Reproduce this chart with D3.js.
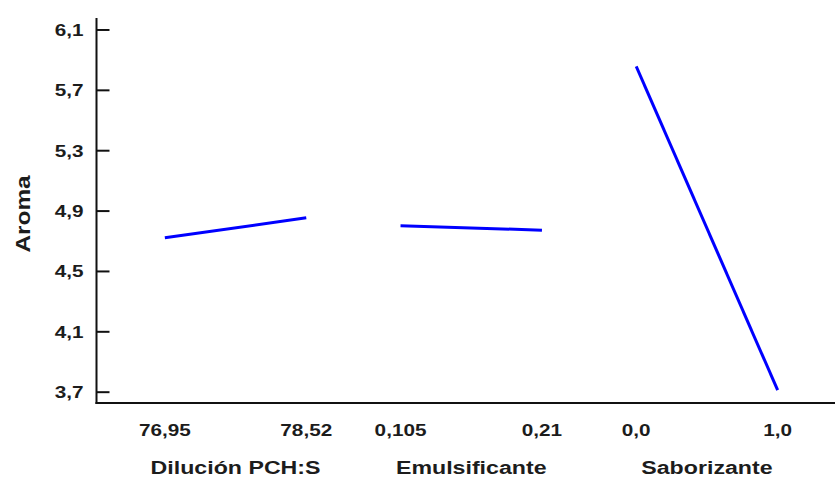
<!DOCTYPE html>
<html>
<head>
<meta charset="utf-8">
<script src="https://cdn.jsdelivr.net/npm/d3@7"></script>
<style>
  html, body { margin: 0; padding: 0; background: #fff; }
  svg { display: block; }
  text { font-family: "Liberation Sans", Arial, sans-serif; font-weight: bold; fill: #1c1c1c; }
</style>
</head>
<body>
<svg id="chart" width="835" height="479"></svg>
<script>
// Main effects for Aroma
const factors = ["Dilución PCH:S", "Emulsificante", "Saborizante"];
const lowLevels = [76.95, 0.105, 0.0];
const highLevels = [78.52, 0.21, 1.0];
const lowLabels = ["76,95", "0,105", "0,0"];
const highLabels = ["78,52", "0,21", "1,0"];
const aromaLow = [4.72, 4.80, 5.855];
const aromaHigh = [4.852, 4.77, 3.71];
const yTicks = [3.7, 4.1, 4.5, 4.9, 5.3, 5.7, 6.1];
const yLabel = "Aroma";

const W = 835, H = 479;
const plotLeft = 96.5, plotTop = 18, plotBottom = 403;
const stretch = 1.22; // wide glyphs

const svg = d3.select("#chart");
const locale = d3.formatLocale({ decimal: ",", thousands: ".", grouping: [3], currency: ["", ""] });
const fmt = locale.format(".1f");

const y = d3.scaleLinear().domain([3.625, 6.176]).range([plotBottom, plotTop]);
const band = d3.scaleBand().domain(factors).range([plotLeft, 846])
  .paddingInner(0.4).paddingOuter(0.29);
const xOf = (i, v) => {
  const s = d3.scaleLinear().domain([lowLevels[i], highLevels[i]])
    .range([band(factors[i]), band(factors[i]) + band.bandwidth()]);
  return s(v);
};

// y axis with inward ticks
const yAxis = svg.append("g").attr("transform", `translate(${plotLeft},0)`)
  .call(d3.axisRight(y).tickValues(yTicks).tickSize(13).tickFormat(fmt));
yAxis.select(".domain").remove();
yAxis.selectAll(".tick line").attr("stroke", "#111").attr("stroke-width", 2);
yAxis.selectAll(".tick text")
  .attr("x", null).attr("dy", null)
  .attr("text-anchor", "end")
  .attr("font-size", 17)
  .attr("transform", `translate(-13,6) scale(${stretch},1)`);
svg.append("line").attr("x1", plotLeft).attr("x2", plotLeft).attr("y1", plotTop).attr("y2", plotBottom + 1)
  .attr("stroke", "#111").attr("stroke-width", 2);

// x axis baseline
svg.append("line").attr("x1", plotLeft - 1).attr("x2", W).attr("y1", plotBottom).attr("y2", plotBottom)
  .attr("stroke", "#111").attr("stroke-width", 2.2);

// level labels and factor names
factors.forEach((f, i) => {
  [[lowLevels[i], lowLabels[i]], [highLevels[i], highLabels[i]]].forEach(([v, lab]) => {
    svg.append("text").attr("text-anchor", "middle").attr("font-size", 17)
      .attr("transform", `translate(${xOf(i, v)},436) scale(${stretch},1)`)
      .text(lab);
  });
  svg.append("text").attr("text-anchor", "middle").attr("font-size", 19)
    .attr("transform", `translate(${band(f) + band.bandwidth() / 2},474) scale(${stretch},1)`)
    .text(f);
});

// y title
svg.append("text").attr("text-anchor", "middle").attr("font-size", 20)
  .attr("transform", `translate(30,214) rotate(-90) scale(${stretch},1)`)
  .text(yLabel);

// effect lines
const line = d3.line().x(d => d[0]).y(d => y(d[1]));
factors.forEach((f, i) => {
  svg.append("path")
    .attr("d", line([[xOf(i, lowLevels[i]), aromaLow[i]], [xOf(i, highLevels[i]), aromaHigh[i]]]))
    .attr("fill", "none").attr("stroke", "#0000ff").attr("stroke-width", 3);
});
</script>
</body>
</html>
